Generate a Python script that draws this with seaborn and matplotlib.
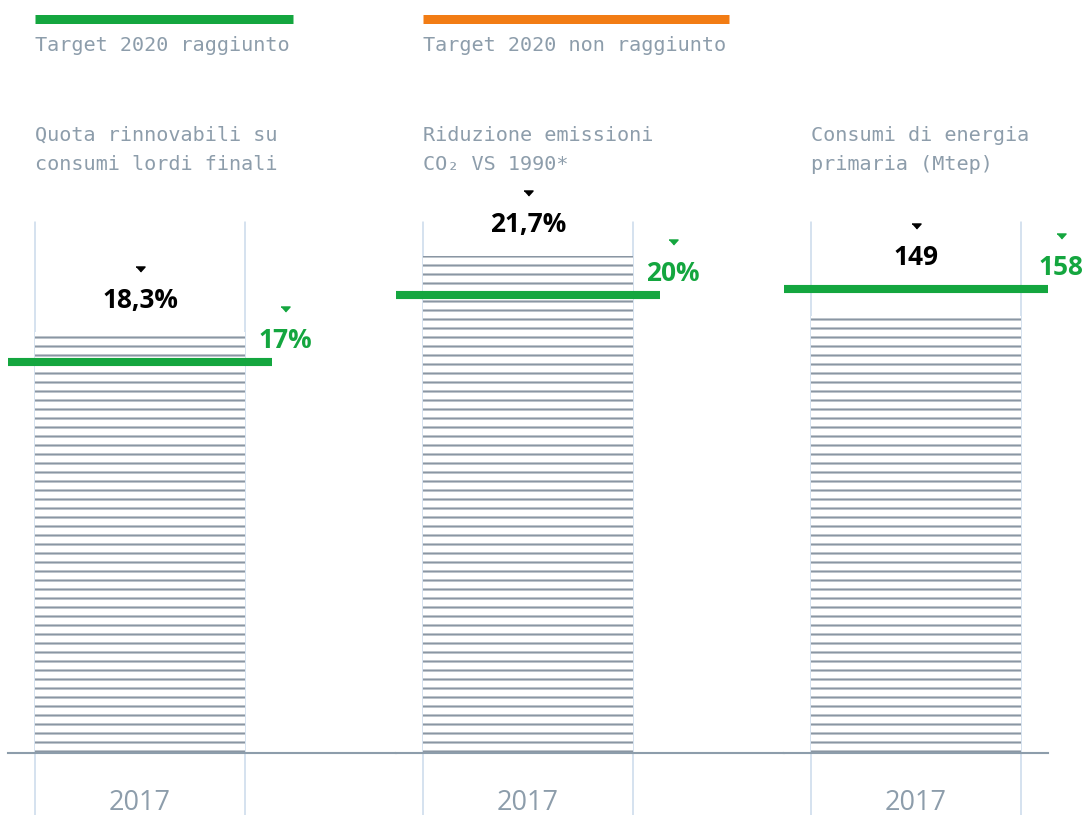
import pandas as pd
import seaborn as sns
import matplotlib.pyplot as plt
from matplotlib.lines import Line2D
from matplotlib.transforms import ScaledTranslation

# data
titles = ["Quota rinnovabili su\nconsumi lordi finali",
          "Riduzione emissioni\nCO₂ VS 1990*",
          "Consumi di energia\nprimaria (Mtep)"]
years = ["2017", "2017", "2017"]
values = [18.3, 21.7, 149]
value_labels = ["18,3%", "21,7%", "149"]
targets = [17, 20, 158]
target_labels = ["17%", "20%", "158"]
legend_labels = ["Target 2020 raggiunto", "Target 2020 non raggiunto"]

GREEN = '#14a63f'
ORANGE = '#f27c14'
GRAY = '#8d9dab'
HATCH = '#8a96a3'
BLUE = '#c9d9ea'

sns.set_style('white')
plt.rcParams['hatch.linewidth'] = 1.4
plt.rcParams['hatch.color'] = HATCH
plt.rcParams['font.family'] = ['DejaVu Sans']

W, H, DPI = 1090, 815, 108
fig = plt.figure(figsize=(W / DPI, H / DPI), dpi=DPI)


def fx(px):
    return px / W


def fy(py):
    return 1 - py / H


mono = ['DejaVu Sans Mono', 'DejaVu Sans']
boxes = [(8, 388), (396, 388), (784, 264)]   # left, width in px
ytops = [23.1, 23.2, 181.0]
top_px, base_px = 222, 753
unit = 262.5  # px per x unit, bar of 0.8 -> 210 px
tri = [(-1, 0.55), (1, 0.55), (0, -0.55)]

for i in range(3):
    left, width = boxes[i]
    ax = fig.add_axes([fx(left), fy(base_px), width / W, (base_px - top_px) / H])
    df = pd.DataFrame({'year': [years[i]], 'value': [values[i]]})
    sns.barplot(data=df, x='year', y='value', ax=ax, color='white',
                edgecolor=HATCH, linewidth=0, hatch='--', width=0.8,
                errorbar=None, saturation=1)

    x0 = -0.4 - 27 / unit
    ax.set_xlim(x0, x0 + width / unit)
    ax.set_ylim(0, ytops[i])
    ax.set_xlabel('')
    ax.set_ylabel('')
    ax.set_yticks([])
    for s in ['top', 'left', 'right']:
        ax.spines[s].set_visible(False)
    ax.spines['bottom'].set_color(GRAY)
    ax.spines['bottom'].set_linewidth(1.4)
    ax.tick_params(axis='x', length=0, pad=24, labelsize=18, labelcolor=GRAY)
    for lbl in ax.get_xticklabels():
        lbl.set_fontfamily('Open Sans')

    p = ax.patches[0]
    bl, br = p.get_x(), p.get_x() + p.get_width()
    for xv in (bl, br):
        ax.axvline(xv, ymin=-(815 - base_px) / (base_px - top_px), ymax=1,
                   color=BLUE, lw=1, clip_on=False, zorder=0.5)

    # target line
    ax.hlines(targets[i], x0, x0 + 264 / unit, color=GREEN, lw=5.4,
              zorder=4, clip_on=False)

    # value label
    top = max(values[i], targets[i])
    ax.annotate(value_labels[i], xy=(0, top), xytext=(0, 32),
                textcoords='offset pixels', ha='center', va='center',
                fontsize=17.5, fontweight='bold', family='Open Sans',
                color='black', annotation_clip=False)
    ax.plot([0], [top], marker=tri, ms=6, color='black', clip_on=False,
            transform=ax.transData + ScaledTranslation(0, 63 / DPI, fig.dpi_scale_trans))

    # target label
    ax.annotate(target_labels[i], xy=(br, targets[i]), xytext=(40, 22),
                textcoords='offset pixels', ha='center', va='center',
                fontsize=17.5, fontweight='bold', family='Open Sans',
                color=GREEN, annotation_clip=False)
    ax.plot([br], [targets[i]], marker=tri, ms=6, color=GREEN, clip_on=False,
            transform=ax.transData + ScaledTranslation(40 / DPI, 53 / DPI, fig.dpi_scale_trans))

    fig.text(fx(left + 27), fy(126), titles[i], family=mono, fontsize=13.4,
             color=GRAY, va='top', ha='left', linespacing=1.65)

# legend
fig.add_artist(Line2D([fx(35), fx(293)], [fy(19), fy(19)], color=GREEN, lw=6,
                      solid_capstyle='butt'))
fig.add_artist(Line2D([fx(423), fx(729)], [fy(19), fy(19)], color=ORANGE, lw=6,
                      solid_capstyle='butt'))
fig.text(fx(35), fy(36), legend_labels[0], family=mono, fontsize=13.4,
         color=GRAY, va='top', ha='left')
fig.text(fx(423), fy(36), legend_labels[1], family=mono, fontsize=13.4,
         color=GRAY, va='top', ha='left')

fig.savefig('out.png', dpi=DPI)
